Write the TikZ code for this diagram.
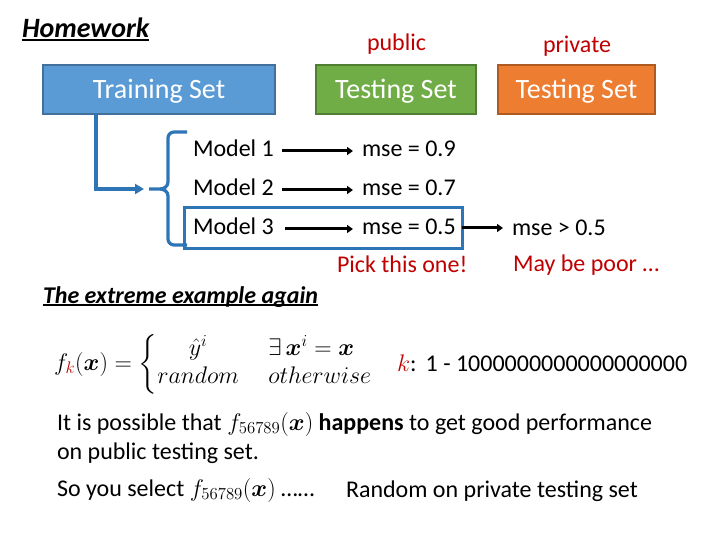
\RequirePackage{fix-cm}
\documentclass[tikz,border=0pt]{standalone}
\usepackage{fontspec}
\setmainfont{Carlito}
\usepackage{amsmath,bm}
\usetikzlibrary{arrows.meta}
\definecolor{pptred}{HTML}{C00000}
\definecolor{trainfill}{HTML}{5B9BD5}
\definecolor{traindraw}{HTML}{41719C}
\definecolor{pubfill}{HTML}{70AD47}
\definecolor{pubdraw}{HTML}{507E32}
\definecolor{privfill}{HTML}{ED7D31}
\definecolor{privdraw}{HTML}{AE5A21}
\definecolor{connblue}{HTML}{2E75B6}
\newcommand\thickul[1]{\setbox0\hbox{#1}\rlap{\rule[-3pt]{\wd0}{1.8pt}}\box0}
\begin{document}
\begin{tikzpicture}[x=1pt,y=-1pt,
  every node/.style={inner sep=0pt, outer sep=0pt},
  lbl/.style={anchor=base west, font=\fontsize{24}{28}\selectfont},
  redlbl/.style={lbl, text=pptred},
  row/.style={lbl, text height=12pt, text depth=0pt},
  setbox/.style={draw, line width=1.5pt, anchor=north west, minimum height=49pt,
    font=\fontsize{28}{32}\selectfont, text=white, text height=20pt, text depth=1pt},
  arr/.style={line width=3pt, -{Triangle[length=6pt,width=8pt]}, shorten <=8pt, shorten >=9pt},
  conn/.style={draw=connblue, line width=3.2pt}]
\useasboundingbox (0,0) rectangle (720,540);

% titles
\node[anchor=base west, font=\fontsize{28}{32}\selectfont\bfseries\itshape] (hw) at (22,38) {\thickul{Homework}};
\node[redlbl] (pub) at (367,51) {public};
\node[redlbl] (priv) at (543,53) {private};

% sets
\node[setbox, fill=trainfill, draw=traindraw, minimum width=232pt] (train) at (43,65) {Training Set};
\node[setbox, fill=pubfill, draw=pubdraw, minimum width=160pt] (pubset) at (316,65) {Testing Set};
\node[setbox, fill=privfill, draw=privdraw, minimum width=157pt] (privset) at (498,65) {Testing Set};

% connector and brace
\coordinate (c1) at (144,189);
\draw[conn, -{Triangle[length=9pt,width=10pt]}] ([xshift=53pt]train.south west) |- (c1);
\draw[conn, line join=round] (187,132) -- (174,132) to[out=180,in=90] (168,138) -- (168,182)
   to[out=-90,in=0] (160,189) -- (149,189);
\draw[conn, line join=round] (160,189) to[out=0,in=90] (168,196) -- (168,239)
   to[out=-90,in=180] (174,245) -- (187,245);

% model rows
\node[row] (m1) at (193,157) {Model 1};
\node[row] (e1) at (362,157) {mse = 0.9};
\node[row] (m2) at (193,196) {Model 2};
\node[row] (e2) at (362,196) {mse = 0.7};
\node[row] (m3) at (193,235) {Model 3};
\node[row] (e3) at (362,235) {mse = 0.5};
\draw[arr] (m1) -- (e1);
\draw[arr] (m2) -- (e2);
\draw[arr, shorten <=11pt] (m3) -- (e3);

\node[draw=connblue, line width=3pt, anchor=north west, minimum width=278pt, minimum height=40pt] (sel) at (184,208) {};
\node[row] (m4) at (512,236) {mse > 0.5};
\draw[arr, shorten <=0pt] (sel.east) -- (sel.east -| m4.west);

\node[redlbl] (pick) at (337,272) {Pick this one!};
\node[redlbl] (poor) at (513,271) {May be poor …};

% extreme example
\node[anchor=base west, font=\fontsize{24}{28}\selectfont\bfseries\itshape] (ext) at (43,303) {\thickul{The extreme example again}};

\node[anchor=west, font=\fontsize{24}{28}\selectfont] (fk) at (54,364)
  {$f_{\textcolor{pptred}{k}}(\bm{x}) = \left\{\begin{array}{@{}c@{\quad\ }l@{}} \hat{y}^{i} & \exists\, \bm{x}^{i} = \bm{x} \\ random & otherwise \end{array}\right.$};
\node[lbl] (krange) at (397,371) {$\textcolor{pptred}{k}$:\hspace{2pt} 1 - 1000000000000000000};

\node[lbl] (l1) at (57,430) {It is possible that $f_{56789}(\bm{x})$ \textbf{happens} to get good performance};
\node[lbl] (l2) at (57,459) {on public testing set.};
\node[lbl] (l3) at (57,496) {So you select $f_{56789}(\bm{x})$ ……};
\node[lbl] (rand) at (346,497) {Random on private testing set};
\end{tikzpicture}
\end{document}
